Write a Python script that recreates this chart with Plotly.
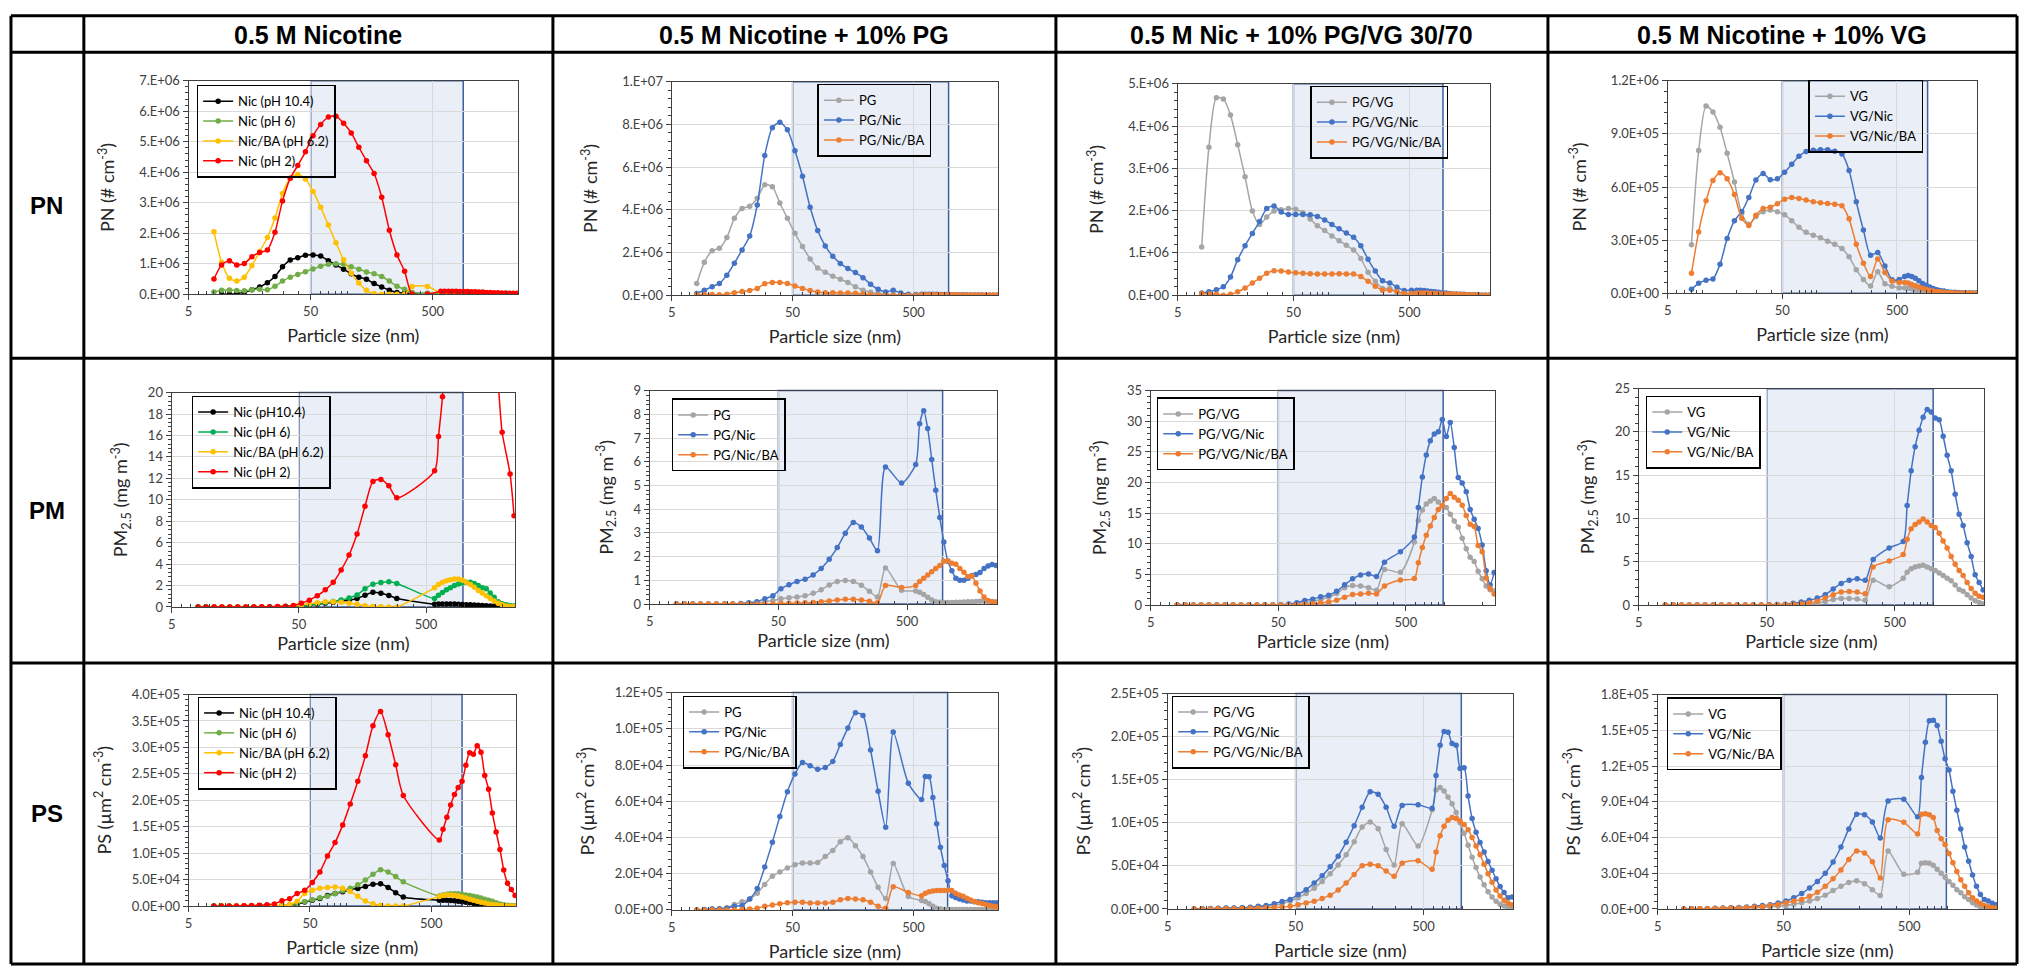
import math
import plotly.graph_objects as go

N = None

# ---------------- data ----------------
SIZE_NM = [8.06, 9.31, 10.8, 12.4, 14.3, 16.5, 19.1, 22.1, 25.5, 29.4, 34.0, 39.2, 45.3, 52.3, 60.4,
           69.8, 80.6, 93.1, 107.5, 124.1, 143.3, 165.5, 191.1, 220.7, 254.8, 294.3, 339.8, 392.4, 453.2, 523.3,
           583, 626, 673, 723, 777, 835, 898, 965, 1037, 1114, 1197, 1286, 1382, 1486, 1596, 1715, 1843,
           1981, 2129, 2288, 2458]

COL_HEADERS = ["0.5 M Nicotine", "0.5 M Nicotine + 10% PG", "0.5 M Nic + 10% PG/VG 30/70", "0.5 M Nicotine + 10% VG"]
ROW_LABELS = ["PN", "PM", "PS"]

X_TICK_VALS = [5, 50, 500]
X_TICK_TEXT = ["5", "50", "500"]
X_TITLE = "Particle size (nm)"

NAMES_C1_PN = ["Nic (pH 10.4)", "Nic (pH 6)", "Nic/BA (pH 6.2)", "Nic (pH 2)"]
NAMES_C1_PM = ["Nic (pH10.4)", "Nic (pH 6)", "Nic/BA (pH 6.2)", "Nic (pH 2)"]
NAMES_C2 = ["PG", "PG/Nic", "PG/Nic/BA"]
NAMES_C3 = ["PG/VG", "PG/VG/Nic", "PG/VG/Nic/BA"]
NAMES_C4 = ["VG", "VG/Nic", "VG/Nic/BA"]

# ---- PN (# cm-3) ----
PN_UNITS = [1e6, 1e6, 1e6, 1e5]
PN1_PH104 = [N, 0.0, 0.0, 0.02, 0.06, 0.15, 0.24, 0.38, 0.58, 0.9, 1.12, 1.2, 1.28, 1.29, 1.25, 1.1, 0.96, 0.82, 0.67, 0.56,
             0.49, 0.35, 0.24, 0.13, 0.06, 0.04, 0.03, N, 0.02, N,
             0.02, 0.02, 0.02, 0.02, 0.02, 0.01, 0.01, 0.01, 0.01, 0.01, 0.01, 0.01, 0.01, 0.01, 0.01, 0.0, 0.0, 0.0, 0.0, 0.0, 0.0]
PN1_PH6 = [0.07, 0.13, 0.14, 0.12, 0.11, 0.15, 0.16, 0.15, 0.26, 0.43, 0.56, 0.65, 0.74, 0.83, 0.92, 0.98, 1.0, 0.98, 0.9, 0.82,
           0.73, 0.67, 0.58, 0.43, 0.26, 0.16, 0.06, N, 0.03, N,
           0.03, 0.03, 0.03, 0.03, 0.03, 0.02, 0.02, 0.02, 0.02, 0.02, 0.02, 0.02, 0.01, 0.01, 0.01, 0.01, 0.01, 0.01, 0.01, 0.01, 0.01]
PN1_BA62 = [2.05, 1.05, 0.52, 0.43, 0.56, 0.94, 1.4, 1.86, 2.5, 3.3, 3.8, 3.93, 3.78, 3.37, 2.85, 2.27, 1.69, 1.13, 0.69, 0.37,
            0.13, 0.02, 0.0, 0.0, 0.0, 0.0, 0.25, N, 0.25, N,
            0.04, 0.04, 0.04, 0.04, 0.03, 0.03, 0.03, 0.03, 0.03, 0.02, 0.02, 0.02, 0.02, 0.02, 0.01, 0.01, 0.01, 0.01, 0.01, 0.01, 0.01]
PN1_PH2 = [0.5, 0.96, 1.1, 0.96, 1.01, 1.23, 1.37, 1.45, 2.03, 3.06, 3.8, 4.22, 4.67, 5.2, 5.57, 5.81, 5.84, 5.61, 5.29, 4.82,
           4.38, 3.96, 3.18, 2.1, 1.29, 0.75, 0.0, N, 0.0, N,
           0.1, 0.1, 0.1, 0.1, 0.1, 0.09, 0.09, 0.09, 0.08, 0.08, 0.07, 0.07, 0.06, 0.06, 0.05, 0.05, 0.04, 0.04, 0.03, 0.03, 0.03]

PN2_PG = [0.55, 1.54, 2.08, 2.2, 2.7, 3.6, 4.06, 4.17, 4.54, 5.17, 5.08, 4.32, 3.6, 2.9, 2.28, 1.7, 1.28, 1.08, 0.89, 0.75,
          0.6, 0.4, 0.23, 0.14, 0.08, 0.05, 0.03, 0.02, 0.02, 0.01,
          0.01, 0.01, 0.01, 0.01, 0.01, 0.01, 0.01, 0.01, 0.01, 0.01, 0.0, 0.0, 0.0, 0.0, 0.0, 0.0, 0.0, 0.0, 0.0, 0.0, 0.0]
PN2_PGNIC = [0.08, 0.23, 0.4, 0.55, 0.94, 1.5, 2.12, 2.77, 4.23, 6.54, 7.85, 8.1, 7.75, 6.77, 5.57, 4.12, 3.03, 2.31, 1.82, 1.49,
             1.25, 1.06, 0.82, 0.51, 0.28, 0.15, 0.23, 0.1, 0.05, 0.03,
             0.05, 0.05, 0.05, 0.04, 0.04, 0.03, 0.03, 0.03, 0.02, 0.02, 0.02, 0.02, 0.01, 0.01, 0.01, 0.01, 0.01, 0.0, 0.0, 0.0, 0.0]
PN2_PGNICBA = [0.02, 0.03, 0.03, 0.02, 0.05, 0.12, 0.17, 0.22, 0.32, 0.54, 0.6, 0.6, 0.55, 0.43, 0.32, 0.22, 0.15, 0.12, 0.12, 0.1,
               0.1, 0.09, 0.06, 0.02, 0.0, 0.0, 0.0, 0.0, 0.0, 0.0,
               0.02, 0.02, 0.02, 0.02, 0.02, 0.02, 0.02, 0.02, 0.02, 0.02, 0.01, 0.01, 0.01, 0.01, 0.01, 0.01, 0.01, 0.01, 0.01, 0.01, 0.01]

PN3_PGVG = [1.14, 3.5, 4.67, 4.64, 4.26, 3.56, 2.8, 1.99, 1.67, 1.85, 1.99, 2.02, 2.05, 2.03, 1.95, 1.8, 1.64, 1.53, 1.4, 1.29,
            1.18, 1.07, 0.87, 0.54, 0.33, 0.16, 0.16, 0.08, 0.05, 0.04,
            0.04, 0.04, 0.04, 0.03, 0.03, 0.03, 0.03, 0.02, 0.02, 0.02, 0.02, 0.01, 0.01, 0.01, 0.01, 0.01, 0.0, 0.0, 0.0, 0.0, 0.0]
PN3_PGVGNIC = [0.05, 0.08, 0.13, 0.2, 0.43, 0.84, 1.17, 1.46, 1.74, 2.05, 2.11, 1.97, 1.91, 1.91, 1.91, 1.9, 1.86, 1.78, 1.67, 1.57,
               1.47, 1.37, 1.17, 0.85, 0.57, 0.34, 0.29, 0.19, 0.11, 0.12,
               0.12, 0.12, 0.11, 0.1, 0.09, 0.08, 0.07, 0.06, 0.05, 0.04, 0.03, 0.03, 0.02, 0.02, 0.01, 0.01, 0.01, 0.01, 0.0, 0.0, 0.0]
PN3_PGVGNICBA = [0.04, 0.03, 0.02, 0.0, 0.02, 0.08, 0.17, 0.29, 0.4, 0.52, 0.58, 0.57, 0.55, 0.53, 0.52, 0.51, 0.5, 0.5, 0.5, 0.51,
                 0.5, 0.5, 0.44, 0.33, 0.21, 0.12, 0.12, 0.08, 0.04, 0.04,
                 0.05, 0.05, 0.05, 0.05, 0.04, 0.04, 0.04, 0.03, 0.03, 0.03, 0.02, 0.02, 0.02, 0.01, 0.01, 0.01, 0.01, 0.0, 0.0, 0.0, 0.0]

PN4_VG = [2.74, 8.06, 10.57, 10.24, 9.37, 7.9, 6.28, 4.5, 3.9, 4.33, 4.6, 4.7, 4.6, 4.43, 4.1, 3.72, 3.44, 3.28, 3.13, 2.94,
          2.76, 2.52, 2.06, 1.33, 0.78, 0.41, 1.22, 0.54, 0.39, 0.3,
          0.3, 0.28, 0.25, 0.2, 0.15, 0.12, 0.1, 0.08, 0.06, 0.05, 0.04, 0.03, 0.02, 0.02, 0.01, 0.01, 0.01, 0.0, 0.0, 0.0, 0.0]
PN4_VGNIC = [0.22, 0.56, 0.74, 0.81, 1.63, 3.09, 4.09, 4.61, 5.41, 6.39, 6.76, 6.41, 6.46, 6.83, 7.28, 7.74, 8.0, 8.07, 8.11, 8.11,
             8.02, 7.87, 6.93, 5.17, 3.57, 2.15, 2.3, 1.54, 0.76, 0.78,
             0.95, 1.0, 0.95, 0.85, 0.7, 0.55, 0.45, 0.35, 0.27, 0.2, 0.15, 0.12, 0.09, 0.06, 0.05, 0.04, 0.03, 0.02, 0.02, 0.01, 0.01]
PN4_VGNICBA = [1.13, 3.46, 5.22, 6.37, 6.8, 6.46, 5.57, 4.24, 3.83, 4.41, 4.78, 4.85, 5.06, 5.31, 5.41, 5.35, 5.26, 5.17, 5.11, 5.07,
               5.02, 4.94, 4.2, 2.76, 1.7, 0.94, 1.93, 1.17, 0.69, 0.61,
               0.6, 0.58, 0.5, 0.42, 0.35, 0.28, 0.22, 0.17, 0.13, 0.1, 0.08, 0.06, 0.04, 0.03, 0.02, 0.02, 0.01, 0.01, 0.01, 0.0, 0.0]

# ---- PM2.5 (mg m-3) ----
PM1_PH104 = [0, 0, 0, 0, 0, 0, 0, 0, 0, 0, 0.02, 0.05, 0.08, 0.12, 0.17, 0.25, 0.35, 0.45, 0.55, 0.65,
             0.8, 1.1, 1.37, 1.28, 1.07, 0.8, N, N, N, N,
             0.25, 0.27, 0.28, 0.28, 0.28, 0.27, 0.26, 0.24, 0.22, 0.2, 0.18, 0.16, 0.14, 0.12, 0.1, 0.09, 0.08, 0.07, 0.06, 0.05, 0.05]
PM1_PH6 = [0, 0, 0, 0, 0, 0, 0, 0, 0, 0, 0.02, 0.05, 0.1, 0.15, 0.22, 0.3, 0.4, 0.52, 0.65, 0.85,
           1.13, 1.7, 2.13, 2.29, 2.35, 2.2, N, N, N, N,
           0.8, 1.1, 1.35, 1.6, 1.8, 2.0, 2.15, 2.25, 2.3, 2.3, 2.2, 2.0, 1.8, 1.7, 1.3, 0.9, 0.5, 0.3, 0.2, 0.15, 0.1]
PM1_BA62 = [0, 0, 0, 0, 0, 0, 0, 0, 0, 0, 0.02, 0.05, 0.1, 0.2, 0.3, 0.4, 0.5, 0.5, 0.45, 0.35,
            0.25, 0.12, 0.05, 0.02, 0.01, 0.0, N, N, N, N,
            1.8, 2.1, 2.3, 2.45, 2.55, 2.6, 2.6, 2.5, 2.3, 2.1, 1.85, 1.55, 1.3, 1.05, 0.8, 0.55, 0.35, 0.2, 0.1, 0.05, 0.03]
PM1_PH2 = [0, 0, 0, 0, 0, 0, 0.01, 0.01, 0.02, 0.03, 0.05, 0.08, 0.15, 0.35, 0.64, 1.05, 1.6, 2.3, 3.45, 4.85,
           6.8, 9.4, 11.7, 11.9, 11.3, 10.2, N, N, N, N,
           12.7, 15.9, 19.6, 25, 31, 37, 43, 48, 52, 54, 53, 50, 46, 40, 33, 26, 21, 16.3, N, 12.4, 8.5]

PM2_PG = [0, 0, 0, 0, 0, 0, 0, 0, 0, 0.02, 0.05, 0.1, 0.15, 0.22, 0.27, 0.3, 0.35, 0.45, 0.6, 0.8,
          0.95, 0.99, 0.95, 0.79, 0.54, 0.3, 1.52, N, 0.58, N,
          0.55, 0.5, 0.4, 0.29, 0.17, 0.1, 0.08, 0.07, 0.07, 0.07, 0.08, 0.08, 0.09, 0.1, 0.1, 0.11, 0.12, 0.12, 0.11, 0.11, 0.1]
PM2_PGNIC = [0, 0, 0, 0, 0, 0, 0, 0, 0.02, 0.05, 0.1, 0.22, 0.35, 0.65, 0.81, 0.95, 1.05, 1.23, 1.5, 1.89,
             2.38, 2.99, 3.44, 3.25, 2.78, 2.25, 5.78, N, 5.1, N,
             5.88, 7.6, 8.15, 7.4, 6.1, 4.8, 3.65, 2.62, 1.8, 1.4, 1.09, 1.0, 1.0, 1.09, 1.2, 1.25, 1.33, 1.5, 1.6, 1.67, 1.63]
PM2_PGNICBA = [0, 0, 0, 0, 0, 0, 0, 0, 0, 0, 0, 0, 0, 0.02, 0.03, 0.04, 0.05, 0.07, 0.1, 0.13,
               0.17, 0.2, 0.2, 0.17, 0.12, 0.05, 0.78, N, 0.7, N,
               0.78, 0.95, 1.09, 1.23, 1.36, 1.5, 1.63, 1.8, 1.83, 1.72, 1.68, 1.5, 1.34, 1.16, 1.18, 0.88, 0.55, 0.3, 0.15, 0.1, 0.05]

PM3_PGVG = [0, 0, 0, 0, 0, 0, 0, 0, 0, 0, 0, 0, 0, 0.02, 0.08, 0.2, 0.4, 0.6, 0.9, 1.3,
            1.87, 2.84, 3.2, 3.1, 2.84, 2.4, 5.78, N, 5.35, N,
            10.3, 13.8, 15.5, 16.5, 17.0, 17.4, 16.8, 16.2, 15.9, 14.8, 13.7, 12.7, 10.9, 9.2, 7.8, 7.1, 5.5, 4.3, 3.1, 2.5, 2.3]
PM3_PGVGNIC = [0, 0, 0, 0, 0, 0, 0, 0, 0, 0, 0, 0, 0.02, 0.05, 0.16, 0.37, 0.75, 0.96, 1.34, 1.6,
               2.25, 3.3, 4.28, 4.9, 5.08, 4.65, 7.0, N, 8.7, N,
               11.1, 15.9, 20.9, 24.5, 26.8, 27.9, 28.3, 30.3, 27.5, 29.8, 25.7, 20.8, 19.9, 18.5, 15.6, 14.0, 12.5, 9.8, 5.6, 3.3, 5.3]
PM3_PGVGNICBA = [0, 0, 0, 0, 0, 0, 0, 0, 0, 0, 0, 0, 0, 0, 0.02, 0.06, 0.12, 0.2, 0.35, 0.5,
                 0.8, 1.28, 1.7, 1.82, 1.93, 1.82, 3.1, N, 4.07, N,
                 4.33, 6.9, 9.4, 11.4, 12.9, 14.3, 15.6, 16.2, 17.4, 18.2, 17.6, 17.1, 16.3, 14.6, 13.2, 12.8, 9.7, 8.7, 4.4, 2.7, 1.8]

PM4_VG = [0, 0, 0, 0, 0, 0, 0, 0, 0, 0, 0, 0, 0, 0, 0, 0.02, 0.05, 0.08, 0.1, 0.2,
          0.4, 0.65, 0.75, 0.75, 0.7, 0.55, 2.85, N, 2.1, N,
          3.1, 3.8, 4.2, 4.4, 4.5, 4.6, 4.4, 4.2, 4.0, 3.7, 3.4, 3.1, 2.8, 2.3, 1.8, 1.6, 1.2, 0.8, 0.5, 0.3, 0.15]
PM4_VGNIC = [0, 0, 0, 0, 0, 0, 0, 0, 0, 0, 0, 0, 0, 0.03, 0.05, 0.1, 0.2, 0.35, 0.55, 0.8,
             1.2, 1.85, 2.5, 2.85, 3.05, 2.85, 5.25, N, 6.6, N,
             7.35, 11.5, 15.5, 18.3, 20.2, 21.7, 22.6, 22.3, 21.6, 21.4, 19.5, 17.3, 15.5, 12.8, 10.5, 9.2, 7.2, 5.6, 3.5, 2.6, 1.75]
PM4_VGNICBA = [0, 0, 0, 0, 0, 0, 0, 0, 0, 0, 0, 0, 0, 0, 0.02, 0.05, 0.1, 0.15, 0.25, 0.45,
               0.8, 1.2, 1.5, 1.55, 1.5, 1.3, 4.4, N, 5.1, N,
               5.85, 7.6, 8.8, 9.3, 9.6, 9.95, 9.6, 9.2, 8.95, 8.3, 7.4, 6.6, 5.6, 4.7, 4.0, 3.4, 2.6, 1.9, 1.35, 1.0, 0.9]

# ---- PS (um2 cm-3), in units of 1e4 ----
PS_UNIT = 1e4
PS1_PH104 = [0, 0, 0, 0, 0, 0, 0, 0, 0, 0.1, 0.2, 0.35, 0.74, 1.1, 1.4, 2.0, 2.35, 2.7, 3.1, 3.3,
             3.7, 4.1, 4.2, 3.5, 2.5, 1.7, N, N, N, N,
             1.1, 1.1, 1.1, 1.05, 1.0, 0.9, 0.8, 0.7, 0.6, 0.5, 0.4, 0.3, 0.25, 0.2, 0.15, 0.1, 0.05, 0.03, 0.02, 0.01, 0.0]
PS1_PH6 = [0, 0, 0, 0, 0, 0, 0, 0, 0, 0.1, 0.2, 0.5, 0.87, 1.17, 1.55, 1.85, 2.35, 2.9, 3.34, 4.0,
           4.9, 6.0, 6.86, 6.43, 5.56, 4.57, N, N, N, N,
           1.9, 2.1, 2.2, 2.3, 2.3, 2.3, 2.2, 2.1, 2.0, 1.85, 1.7, 1.5, 1.3, 1.1, 0.9, 0.6, 0.4, 0.25, 0.15, 0.1, 0.05]
PS1_BA62 = [0, 0, 0, 0, 0, 0, 0, 0, 0.05, 0.1, 0.3, 0.9, 2.35, 2.97, 3.34, 3.52, 3.58, 3.34, 2.72, 1.85,
            0.93, 0.43, 0.12, 0.0, 0.0, 0.0, N, N, N, N,
            1.8, 2.0, 2.1, 2.1, 2.0, 1.9, 1.7, 1.5, 1.3, 1.1, 0.9, 0.7, 0.55, 0.4, 0.3, 0.2, 0.1, 0.05, 0.02, 0.01, 0.0]
PS1_PH2 = [0, 0, 0, 0, 0.05, 0.1, 0.15, 0.25, 0.4, 1.0, 1.36, 2.35, 2.97, 4.45, 6.43, 9.46, 12.0, 15.3, 19.3, 23.6,
           28.4, 34.1, 36.8, 32.4, 26.7, 20.9, N, N, N, N,
           12.5, 14.5, 16.8, 19.1, 21.1, 22.4, 23.6, 26.6, 29.0, 28.7, 30.3, 29.1, 24.7, 22.1, 17.6, 14.0, 10.7, 6.8, 4.3, 3.1, 2.0]

PS2_PG = [0.0, 0.02, 0.05, 0.08, 0.12, 0.3, 0.45, 0.6, 0.92, 1.41, 1.86, 2.1, 2.32, 2.5, 2.59, 2.59, 2.62, 2.95, 3.28, 3.76,
          3.98, 3.55, 2.95, 2.1, 1.25, 0.63, 2.57, N, 0.74, N,
          0.52, 0.47, 0.34, 0.2, 0.1, 0.05, 0.03, 0.02, 0.02, 0.02, 0.02, 0.03, 0.03, 0.03, 0.03, 0.03, 0.03, 0.03, 0.02, 0.02, 0.02]
PS2_PGNIC = [0.0, 0.02, 0.05, 0.05, 0.1, 0.2, 0.25, 0.6, 1.18, 2.37, 3.73, 5.16, 6.53, 7.51, 8.14, 7.96, 7.76, 7.87, 8.2, 9.14,
             10.05, 10.88, 10.73, 8.83, 6.55, 4.56, 9.83, N, 6.99, N,
             6.1, 7.37, 7.35, 6.21, 4.76, 3.46, 2.46, 1.61, 0.78, 0.69, 0.6, 0.55, 0.5, 0.5, 0.45, 0.45, 0.42, 0.4, 0.4, 0.4, 0.4]
PS2_PGNICBA = [0, 0, 0, 0, 0, 0, 0.02, 0.05, 0.1, 0.2, 0.27, 0.34, 0.4, 0.42, 0.42, 0.38, 0.38, 0.38, 0.42, 0.56,
               0.63, 0.61, 0.56, 0.43, 0.2, 0.1, 1.28, N, 0.96, N,
               0.78, 0.92, 1.0, 1.05, 1.07, 1.07, 1.08, 1.1, 1.07, 0.92, 0.83, 0.75, 0.65, 0.55, 0.47, 0.4, 0.35, 0.3, 0.25, 0.2, 0.18]

PS3_PGVG = [0.0, 0.02, 0.03, 0.05, 0.07, 0.1, 0.13, 0.17, 0.22, 0.3, 0.4, 0.6, 0.9, 1.3, 1.8, 2.4, 3.2, 4.1, 5.1, 6.3,
            7.8, 9.5, 10.1, 9.3, 6.9, 5.1, 9.9, N, 7.3, N,
            11.5, 13.8, 14.1, 13.7, 13.0, 12.2, 11.2, 10.0, 8.8, 7.4, 6.0, 4.8, 3.7, 2.8, 2.0, 1.4, 0.9, 0.55, 0.35, 0.2, 0.15]
PS3_PGVGNIC = [0.0, 0.02, 0.05, 0.07, 0.1, 0.12, 0.15, 0.2, 0.3, 0.4, 0.6, 0.87, 1.1, 1.67, 2.24, 3.0, 3.84, 4.9, 6.12, 7.75,
               9.65, 11.8, 13.6, 13.3, 11.8, 9.6, 12.0, N, 12.1, N,
               11.7, 15.5, 19.0, 20.6, 20.5, 19.2, 19.0, 16.3, 16.4, 13.1, 10.5, 8.9, 7.7, 6.6, 5.5, 4.5, 3.5, 2.6, 1.9, 1.3, 1.4]
PS3_PGVGNICBA = [0.0, 0.0, 0.0, 0.01, 0.02, 0.03, 0.05, 0.07, 0.1, 0.13, 0.17, 0.22, 0.3, 0.5, 0.7, 0.9, 1.2, 1.6, 2.2, 3.0,
                 4.0, 5.0, 5.2, 5.0, 4.4, 3.8, 5.3, N, 5.6, N,
                 4.6, 6.6, 8.5, 9.6, 10.3, 10.6, 10.5, 10.2, 9.8, 9.2, 8.3, 7.3, 6.3, 5.2, 4.1, 3.1, 2.2, 1.5, 1.0, 0.7, 0.5]

PS4_VG = [0.0, 0.0, 0.01, 0.02, 0.03, 0.04, 0.05, 0.06, 0.08, 0.1, 0.13, 0.17, 0.22, 0.3, 0.39, 0.52, 0.66, 0.88, 1.16, 1.54,
          1.9, 2.23, 2.37, 2.12, 1.62, 1.13, 4.87, N, 2.92, N,
          3.08, 3.83, 3.88, 3.83, 3.66, 3.33, 3.0, 2.67, 2.31, 1.98, 1.62, 1.35, 1.02, 0.8, 0.52, 0.33, 0.19, 0.11, 0.06, 0.03, 0.02]
PS4_VGNIC = [0.0, 0.01, 0.02, 0.03, 0.05, 0.07, 0.1, 0.13, 0.17, 0.22, 0.28, 0.36, 0.5, 0.66, 0.94, 1.3, 1.76, 2.3, 3.0, 3.94,
             5.2, 6.72, 7.95, 7.9, 7.3, 5.95, 9.06, N, 9.2, N,
             7.73, 11.04, 14.0, 15.8, 15.85, 15.4, 14.07, 12.6, 11.67, 9.88, 8.28, 6.72, 5.2, 4.0, 2.86, 1.9, 1.21, 0.8, 0.66, 0.47, 0.35]
PS4_VGNICBA = [0.0, 0.01, 0.01, 0.02, 0.03, 0.05, 0.07, 0.09, 0.12, 0.16, 0.2, 0.28, 0.38, 0.52, 0.66, 0.8, 1.07, 1.4, 1.9, 2.53,
               3.28, 4.16, 4.87, 4.7, 3.96, 2.59, 7.49, N, 7.27, N,
               6.3, 7.95, 8.0, 7.9, 7.68, 6.58, 5.89, 5.4, 4.65, 3.88, 3.14, 2.45, 1.9, 1.35, 0.94, 0.66, 0.47, 0.3, 0.19, 0.11, 0.08]

# y tick labels
PN_TICKS = [["0.E+00", "1.E+06", "2.E+06", "3.E+06", "4.E+06", "5.E+06", "6.E+06", "7.E+06"],
            ["0.E+00", "2.E+06", "4.E+06", "6.E+06", "8.E+06", "1.E+07"],
            ["0.E+00", "1.E+06", "2.E+06", "3.E+06", "4.E+06", "5.E+06"],
            ["0.0E+00", "3.0E+05", "6.0E+05", "9.0E+05", "1.2E+06"]]
PM_TICKS = [["0", "2", "4", "6", "8", "10", "12", "14", "16", "18", "20"],
            ["0", "1", "2", "3", "4", "5", "6", "7", "8", "9"],
            ["0", "5", "10", "15", "20", "25", "30", "35"],
            ["0", "5", "10", "15", "20", "25"]]
PS_TICKS = [["0.0E+00", "5.0E+04", "1.0E+05", "1.5E+05", "2.0E+05", "2.5E+05", "3.0E+05", "3.5E+05", "4.0E+05"],
            ["0.0E+00", "2.0E+04", "4.0E+04", "6.0E+04", "8.0E+04", "1.0E+05", "1.2E+05"],
            ["0.0E+00", "5.0E+04", "1.0E+05", "1.5E+05", "2.0E+05", "2.5E+05"],
            ["0.0E+00", "3.0E+04", "6.0E+04", "9.0E+04", "1.2E+05", "1.5E+05", "1.8E+05"]]

Y_TITLES = ["PN (# cm<sup>-3</sup>)", "PM<sub>2.5</sub> (mg m<sup>-3</sup>)", "PS (µm<sup>2</sup> cm<sup>-3</sup>)"]

# ---------------- style ----------------
W, H = 2025, 974
BLACK, GREEN, GREEN_PM, YELLOW, RED = "#000000", "#70AD47", "#00B050", "#FFC000", "#FF0000"
GRAY, BLUE, ORANGE = "#A5A5A5", "#4472C4", "#ED7D31"
FONT = "Lato, 'Open Sans', sans-serif"
AXCOL = "#404040"
X_MINOR = [6, 7, 8, 9, 10, 20, 30, 40, 60, 70, 80, 90, 100, 200, 300, 400, 600, 700, 800, 900, 1000, 2000]

# plot-area boxes (x0, x1, ytop, ybottom) in px, per row/col
BOXES = [[(185, 515, 74, 291), (669, 996, 75, 292), (1176, 1489, 77, 292), (1667, 1977, 74, 290)],
         [(168, 512, 391, 609), (647, 995, 389, 606), (1149, 1494, 389, 607), (1638, 1984, 387, 607)],
         [(185, 513, 698, 913), (669, 996, 696, 917), (1166, 1512, 697, 916), (1657, 1997, 698, 916)]]
LEGEND_POS = [[(193, 78), (815, 77), (1309, 79), (1808, 73)],
              [(188, 394), (669, 397), (1155, 396), (1645, 394)],
              [(194, 700), (680, 699), (1170, 699), (1666, 701)]]
SHADE_END = [[890, 975, 980, 925], [975, 944, 980, 1000], [898, 957, 986, 988]]

def px_x(p):
    return p / W

def px_y(p):
    return 1 - p / H

panels = [(r, c) for r in range(3) for c in range(4)]

SERIES = {
    (0, 0): [(NAMES_C1_PN[0], PN1_PH104, BLACK), (NAMES_C1_PN[1], PN1_PH6, GREEN), (NAMES_C1_PN[2], PN1_BA62, YELLOW), (NAMES_C1_PN[3], PN1_PH2, RED)],
    (0, 1): [(NAMES_C2[0], PN2_PG, GRAY), (NAMES_C2[1], PN2_PGNIC, BLUE), (NAMES_C2[2], PN2_PGNICBA, ORANGE)],
    (0, 2): [(NAMES_C3[0], PN3_PGVG, GRAY), (NAMES_C3[1], PN3_PGVGNIC, BLUE), (NAMES_C3[2], PN3_PGVGNICBA, ORANGE)],
    (0, 3): [(NAMES_C4[0], PN4_VG, GRAY), (NAMES_C4[1], PN4_VGNIC, BLUE), (NAMES_C4[2], PN4_VGNICBA, ORANGE)],
    (1, 0): [(NAMES_C1_PM[0], PM1_PH104, BLACK), (NAMES_C1_PM[1], PM1_PH6, GREEN_PM), (NAMES_C1_PM[2], PM1_BA62, YELLOW), (NAMES_C1_PM[3], PM1_PH2, RED)],
    (1, 1): [(NAMES_C2[0], PM2_PG, GRAY), (NAMES_C2[1], PM2_PGNIC, BLUE), (NAMES_C2[2], PM2_PGNICBA, ORANGE)],
    (1, 2): [(NAMES_C3[0], PM3_PGVG, GRAY), (NAMES_C3[1], PM3_PGVGNIC, BLUE), (NAMES_C3[2], PM3_PGVGNICBA, ORANGE)],
    (1, 3): [(NAMES_C4[0], PM4_VG, GRAY), (NAMES_C4[1], PM4_VGNIC, BLUE), (NAMES_C4[2], PM4_VGNICBA, ORANGE)],
    (2, 0): [(NAMES_C1_PN[0], PS1_PH104, BLACK), (NAMES_C1_PN[1], PS1_PH6, GREEN), (NAMES_C1_PN[2], PS1_BA62, YELLOW), (NAMES_C1_PN[3], PS1_PH2, RED)],
    (2, 1): [(NAMES_C2[0], PS2_PG, GRAY), (NAMES_C2[1], PS2_PGNIC, BLUE), (NAMES_C2[2], PS2_PGNICBA, ORANGE)],
    (2, 2): [(NAMES_C3[0], PS3_PGVG, GRAY), (NAMES_C3[1], PS3_PGVGNIC, BLUE), (NAMES_C3[2], PS3_PGVGNICBA, ORANGE)],
    (2, 3): [(NAMES_C4[0], PS4_VG, GRAY), (NAMES_C4[1], PS4_VGNIC, BLUE), (NAMES_C4[2], PS4_VGNICBA, ORANGE)],
}

def unit_for(r, c):
    if r == 0:
        return PN_UNITS[c]
    if r == 1:
        return 1.0
    return PS_UNIT

def ticks_for(r, c):
    return [PN_TICKS, PM_TICKS, PS_TICKS][r][c]

fig = go.Figure()
layout = dict(width=W, height=H, margin=dict(l=0, r=0, t=0, b=0), autosize=False,
              paper_bgcolor="white", plot_bgcolor="white", showlegend=True,
              font=dict(family=FONT, color=AXCOL), shapes=[], annotations=[])

for k, (r, c) in enumerate(panels, start=1):
    xs = "" if k == 1 else str(k)
    leg = "legend" if k == 1 else f"legend{k}"
    unit = unit_for(r, c)
    for name, vals, color in SERIES[(r, c)]:
        fig.add_trace(go.Scatter(
            x=SIZE_NM, y=[None if v is None else v * unit for v in vals],
            mode="lines+markers", name=name, connectgaps=True,
            line=dict(color=color, width=1.5, shape="spline", smoothing=0.7),
            marker=dict(color=color, size=5.5),
            xaxis="x" + xs, yaxis="y" + xs, legend=leg))
    x0, x1, yt, yb = BOXES[r][c]
    labels = ticks_for(r, c)
    vals = [float(t) for t in labels]
    step = vals[1] - vals[0]
    layout["xaxis" + xs] = dict(
        domain=[px_x(x0), px_x(x1)], anchor="y" + xs, type="log",
        range=[math.log10(5), math.log10(2500)],
        tickmode="array", tickvals=X_TICK_VALS, ticktext=X_TICK_TEXT,
        showgrid=True, gridcolor="#D9D9D9", gridwidth=1, zeroline=False,
        showline=True, linecolor=AXCOL, linewidth=1.2, mirror=True,
        ticks="outside", ticklen=5, tickcolor=AXCOL,
        minor=dict(tickmode="array", tickvals=X_MINOR, ticks="inside", ticklen=3,
                   tickcolor=AXCOL, showgrid=False),
        tickfont=dict(family=FONT, size=13, color=AXCOL),
        title=dict(text=X_TITLE, font=dict(family=FONT, size=18, color="#262626"),
                   standoff=5 if r == 1 else 11))
    layout["yaxis" + xs] = dict(
        domain=[px_y(yb), px_y(yt)], anchor="x" + xs,
        range=[vals[0], vals[-1]], tickmode="array", tickvals=vals, ticktext=labels,
        showgrid=True, gridcolor="#D9D9D9", gridwidth=1, zeroline=False,
        showline=True, linecolor=AXCOL, linewidth=1.2, mirror=True,
        ticks="outside", ticklen=5, tickcolor=AXCOL,
        minor=dict(tickmode="linear", tick0=0, dtick=step / 5, ticks="outside", ticklen=3,
                   tickcolor=AXCOL, showgrid=False),
        tickfont=dict(family=FONT, size=13, color=AXCOL),
        title=dict(text=Y_TITLES[r], font=dict(family=FONT, size=18, color="#262626"),
                   standoff=19 if r == 0 else 15))
    lx, ly = LEGEND_POS[r][c]
    layout[leg] = dict(x=px_x(lx), y=px_y(ly), xanchor="left", yanchor="top",
                       bgcolor="rgba(0,0,0,0)", bordercolor="#000000", borderwidth=1.5,
                       font=dict(family=FONT, size=13, color="#000000"),
                       itemwidth=30, tracegroupgap=0, traceorder="normal")
    # shaded 50 nm - ~1 um region
    layout["shapes"].append(dict(type="rect", xref="x" + xs, yref=f"y{xs} domain",
                                 x0=50, x1=SHADE_END[r][c], y0=0, y1=1, layer="below",
                                 fillcolor="#E9EEF7", line=dict(color="#3F5F9F", width=1.5)))

# table grid
HLINES = [8, 45, 356, 666, 972]
VLINES = [7, 80, 550, 1054, 1547, 2017]
for yy in HLINES:
    layout["shapes"].append(dict(type="line", xref="paper", yref="paper", x0=px_x(VLINES[0]), x1=px_x(VLINES[-1]),
                                 y0=px_y(yy), y1=px_y(yy), line=dict(color="#000000", width=3)))
for xx in VLINES:
    layout["shapes"].append(dict(type="line", xref="paper", yref="paper", x0=px_x(xx), x1=px_x(xx),
                                 y0=px_y(HLINES[0]), y1=px_y(HLINES[-1]), line=dict(color="#000000", width=3)))

for i, txt in enumerate(COL_HEADERS):
    cx = (VLINES[i + 1] + VLINES[i + 2]) / 2
    layout["annotations"].append(dict(text=f"<b>{txt}</b>", x=px_x(cx), y=px_y(27), xref="paper", yref="paper",
                                      showarrow=False, xanchor="center", yanchor="middle",
                                      font=dict(family="Liberation Sans, Arial, sans-serif", size=25, color="#000000")))
for i, txt in enumerate(ROW_LABELS):
    cy = (HLINES[i + 1] + HLINES[i + 2]) / 2
    layout["annotations"].append(dict(text=f"<b>{txt}</b>", x=px_x(43), y=px_y(cy), xref="paper", yref="paper",
                                      showarrow=False, xanchor="center", yanchor="middle",
                                      font=dict(family="Liberation Sans, Arial, sans-serif", size=24, color="#000000")))

fig.update_layout(**layout)
fig.write_html("out.html", config={"displayModeBar": False},
               post_script="document.body.style.margin='0';document.body.style.overflow='hidden';")
